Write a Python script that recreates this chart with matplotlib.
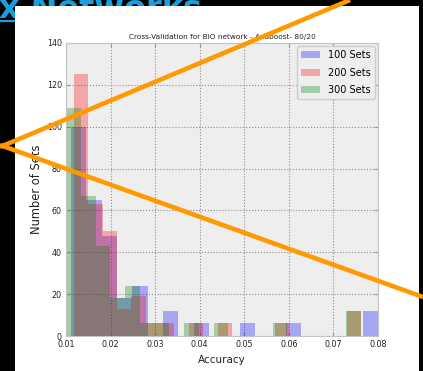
import matplotlib
matplotlib.use('Agg')
import matplotlib.pyplot as plt
import numpy as np
from matplotlib.lines import Line2D
from matplotlib.patches import Rectangle

W, H = 423, 371

# histogram counts, 20 bins per series
labels = ['100 Sets', '200 Sets', '300 Sets']
colors = ['b', 'r', 'g']
counts_100 = [100, 65, 48, 18, 24, 0, 12, 0, 6, 0, 0, 6, 0, 0, 6, 0, 0, 0, 0, 12]
counts_200 = [125, 63, 50, 13, 19, 6, 6, 0, 6, 0, 6, 0, 0, 0, 6, 0, 0, 0, 0, 12]
counts_300 = [109, 67, 43, 18, 24, 6, 6, 0, 6, 0, 6, 0, 0, 0, 6, 0, 0, 0, 0, 12]
range_100 = (0.0111, 0.0800)
range_200 = (0.0118, 0.0762)
range_300 = (0.0100, 0.0762)
xticks = [0.01, 0.02, 0.03, 0.04, 0.05, 0.06, 0.07, 0.08]
yticks = [0, 20, 40, 60, 80, 100, 120, 140]

fig = plt.figure(figsize=(W / 100, H / 100), dpi=100)
fig.patch.set_facecolor('black')

# screenshot leftovers: page heading behind the white panel, orange strokes on top
cyan = '#1a9ee0'
fig.text(-1 / W, 1 - 18 / H, 'x Networks', color=cyan, fontsize=23,
         fontweight='bold', va='baseline', ha='left', zorder=0.1)
fig.add_artist(Line2D([0, 205 / W], [1 - 20.5 / H] * 2, transform=fig.transFigure,
                      color=cyan, lw=1.6, zorder=0.15))
fig.add_artist(Rectangle((15 / W, 0), (419 - 15) / W, (H - 6) / H,
                         transform=fig.transFigure, facecolor='white',
                         edgecolor='none', zorder=0.5))

ax = fig.add_axes([66 / W, (H - 336) / H, (378 - 66) / W, (336 - 43) / H])
ax.set_zorder(1)
ax.set_facecolor('#eeeeee')

for counts, rng, c, lab in zip([counts_100, counts_200, counts_300],
                               [range_100, range_200, range_300], colors, labels):
    edges = np.linspace(rng[0], rng[1], len(counts) + 1)
    centers = (edges[:-1] + edges[1:]) / 2
    ax.hist(centers, bins=edges, weights=counts, histtype='stepfilled',
            alpha=0.3, color=c, lw=0, label=lab)

ax.set_xlim(0.01, 0.08)
ax.set_ylim(0, 140)
ax.set_xticks(xticks)
ax.set_yticks(yticks)
ax.set_xticklabels(['%.2f' % t for t in xticks])
ax.grid(True, color='#8c8c8c', linestyle=':', linewidth=0.8)
ax.set_axisbelow(True)
for s in ax.spines.values():
    s.set_color('#c4c4c4')
ax.tick_params(direction='in', top=True, right=True, color='#999999', length=3,
               labelsize=5.8, labelcolor='#222222', pad=3)

ax.set_title('Cross-Validation for BIO network - Adaboost- 80/20', fontsize=5.3,
             pad=3, color='#222222')
ax.set_xlabel('Accuracy', fontsize=7.5, labelpad=4, color='#222222')
ax.set_ylabel('Number of Sets', fontsize=8.3, labelpad=3, color='#222222')

leg = ax.legend(loc='upper right', fontsize=7, labelspacing=0.75, handlelength=2.0,
                handleheight=0.7, handletextpad=0.8, borderaxespad=0.35,
                fancybox=True, framealpha=1, facecolor='#eeeeee',
                edgecolor='#cccccc')

orange = '#ff9900'
fig.add_artist(Line2D([0, 350 / W], [1 - 147 / H, 1], transform=fig.transFigure,
                      color=orange, lw=3.3, zorder=10, solid_capstyle='butt'))
fig.add_artist(Line2D([0, 1], [1 - 145 / H, 1 - 297 / H], transform=fig.transFigure,
                      color=orange, lw=3.3, zorder=10, solid_capstyle='butt'))

fig.savefig('out.png', dpi=100, facecolor=fig.get_facecolor())
